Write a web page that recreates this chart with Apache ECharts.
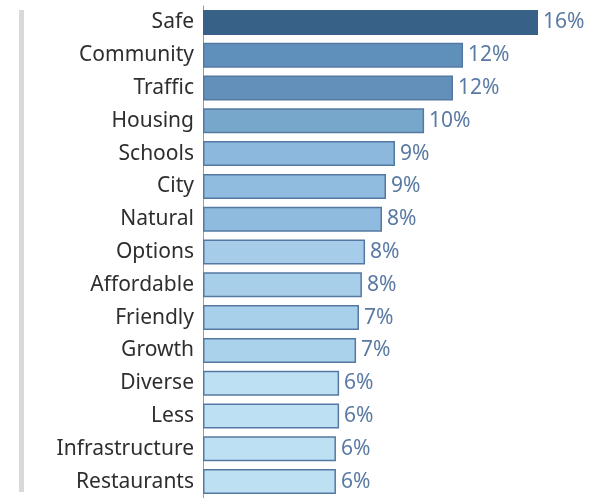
<!DOCTYPE html>
<html>
<head>
<meta charset="utf-8">
<script src="https://cdn.jsdelivr.net/npm/echarts@6/dist/echarts.min.js"></script>
<style>
  html, body { margin: 0; padding: 0; background: #fff; }
  #chart { width: 591px; height: 498px; }
</style>
</head>
<body>
<div id="chart"></div>
<script>
// categories, top to bottom
const categories = ["Safe", "Community", "Traffic", "Housing", "Schools", "City", "Natural",
    "Options", "Affordable", "Friendly", "Growth", "Diverse", "Less", "Infrastructure", "Restaurants"];
// share of mentions (%)
const values = [16, 12.42, 11.94, 10.56, 9.17, 8.74, 8.55, 7.74, 7.59, 7.45, 7.31, 6.5, 6.5, 6.35, 6.35];
// label text shown at bar end
const valueLabels = ["16%", "12%", "12%", "10%", "9%", "9%", "8%", "8%", "8%", "7%", "7%", "6%", "6%", "6%", "6%"];
// fill per bar
const barColors = ["#386188", "#5f8fbb", "#6290bb", "#78a7cc", "#8bb8dc", "#8fbcdf", "#8fbcde",
    "#a5cde9", "#a8cfe9", "#a9d0ea", "#abd2eb", "#bde0f3", "#bde0f3", "#bde0f3", "#bde0f3"];

const chart = echarts.init(document.getElementById("chart"));

const option = {
    animation: false,
    grid: { left: 203, right: 53, top: 6, bottom: -4, containLabel: false },
    xAxis: {
        type: "value",
        min: 0,
        max: 16,
        show: false
    },
    yAxis: {
        type: "category",
        inverse: true,
        data: categories,
        axisLine: { show: true, lineStyle: { color: "#9a9a9a", width: 1 } },
        axisTick: { show: false },
        axisLabel: {
            color: "#2e2e2e",
            fontFamily: "Noto Sans",
            fontSize: 21,
            margin: 9
        }
    },
    series: [{
        type: "bar",
        barWidth: 25,
        data: values.map((v, i) => ({
            value: v,
            itemStyle: {
                color: barColors[i],
                borderColor: i === 0 ? "#386188" : "#5578a2",
                borderWidth: 1.5
            }
        })),
        label: {
            show: true,
            position: "right",
            distance: 5,
            color: "#5a7aa3",
            fontFamily: "Noto Sans",
            fontSize: 21,
            formatter: (p) => valueLabels[p.dataIndex]
        }
    }],
    graphic: [{
        type: "rect",
        shape: { x: 19, y: 10, width: 5, height: 482 },
        style: { fill: "#d9d9d9" },
        silent: true
    }]
};

chart.setOption(option);
</script>
</body>
</html>
